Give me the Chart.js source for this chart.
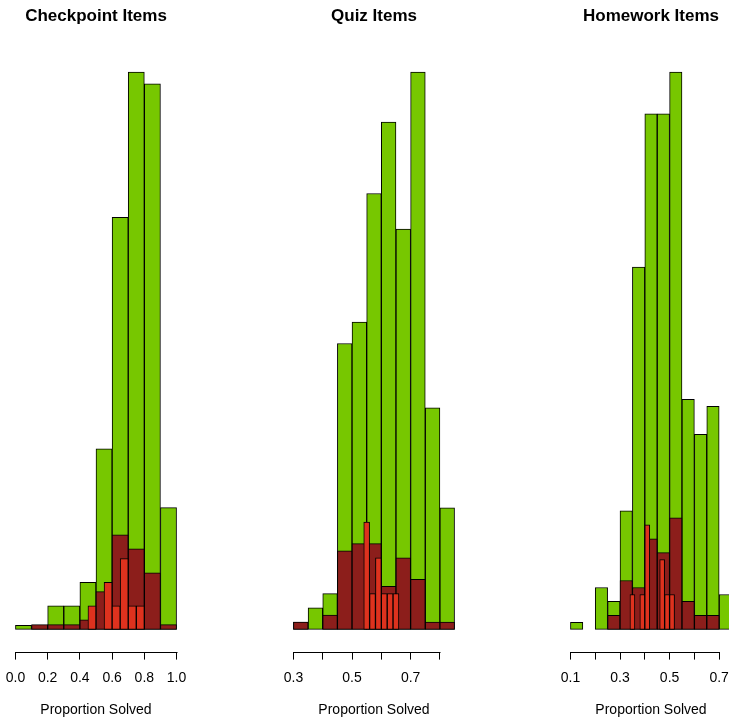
<!DOCTYPE html>
<html>
<head>
<meta charset="utf-8">
<script src="https://cdn.jsdelivr.net/npm/chart.js@4.4.1/dist/chart.umd.min.js"></script>
<style>
  html, body { margin: 0; padding: 0; background: #fff; }
  #wrap { position: relative; width: 729px; height: 721px; overflow: hidden; }
  #wrap canvas { position: absolute; top: 0; }
</style>
</head>
<body>
<div id="wrap">
  <canvas id="checkChart" width="278" height="721" style="left:-43px"></canvas>
  <canvas id="quizChart" width="278" height="721" style="left:235px"></canvas>
  <canvas id="homeChart" width="278" height="721" style="left:512px"></canvas>
</div>
<script>
// Checkpoint items: bin left edges and bar heights
const checkGreenBins = [0.0, 0.1, 0.2, 0.3, 0.4, 0.5, 0.6, 0.7, 0.8, 0.9];
const checkGreen = [1, 1, 6, 6, 12, 46, 105, 142, 139, 31];
const checkDarkBins = [0.0, 0.1, 0.2, 0.3, 0.4, 0.5, 0.6, 0.7, 0.8, 0.9];
const checkDark = [0, 1.2, 1.2, 1.2, 2.4, 9.6, 24.1, 20.5, 14.4, 1.2];
const checkRedBins = [0.45, 0.50, 0.55, 0.60, 0.65, 0.70, 0.75];
const checkRed = [6, 0, 12, 6, 18, 6, 6];
const checkTicks = [0, 0.2, 0.4, 0.6, 0.8, 1.0];
const checkTickLabels = ['0.0', '0.2', '0.4', '0.6', '0.8', '1.0'];

// Quiz items
const quizGreenBins = [0.30, 0.35, 0.40, 0.45, 0.50, 0.55, 0.60, 0.65, 0.70, 0.75, 0.80];
const quizGreen = [1, 3, 5, 40, 43, 61, 71, 56, 78, 31, 17];
const quizDarkBins = [0.30, 0.35, 0.40, 0.45, 0.50, 0.55, 0.60, 0.65, 0.70, 0.75, 0.80];
const quizDark = [1, 0, 2, 11, 12, 12, 6, 10, 7, 1, 1];
const quizRedBins = [0.54, 0.56, 0.58, 0.60, 0.62, 0.64];
const quizRed = [15, 5, 10, 5, 5, 5];
const quizTicks = [0.3, 0.4, 0.5, 0.6, 0.7, 0.8];
const quizTickLabels = ['0.3', '', '0.5', '', '0.7', ''];

// Homework items
const homeGreenBins = [0.10, 0.15, 0.20, 0.25, 0.30, 0.35, 0.40, 0.45, 0.50, 0.55, 0.60, 0.65, 0.70];
const homeGreen = [1, 0, 6, 4, 17, 52, 74, 74, 80, 33, 28, 32, 5];
const homeDarkBins = [0.10, 0.15, 0.20, 0.25, 0.30, 0.35, 0.40, 0.45, 0.50, 0.55, 0.60, 0.65, 0.70];
const homeDark = [0, 0, 0, 2, 7, 6, 13, 11, 16, 4, 2, 2, 0];
const homeRedBins = [0.34, 0.36, 0.38, 0.40, 0.42, 0.44, 0.46, 0.48, 0.50];
const homeRed = [5, 0, 5, 15, 0, 0, 10, 5, 5];
const homeTicks = [0.1, 0.2, 0.3, 0.4, 0.5, 0.6, 0.7];
const homeTickLabels = ['0.1', '', '0.3', '', '0.5', '', '0.7'];

const GREEN = '#77C700';
const DARK = '#8C1E1B';
const RED = '#DE321E';

Chart.defaults.font.family = "'Liberation Sans', Arial, Helvetica, sans-serif";
Chart.defaults.color = '#000';

// R style axis: line only from first to last tick
const axisLine = {
  id: 'axisLine',
  afterDraw(chart) {
    const sx = chart.scales.x;
    const t = sx.ticks;
    const ctx = chart.ctx;
    const y = Math.round(sx.top) + 0.5;
    ctx.save();
    ctx.strokeStyle = '#000';
    ctx.lineWidth = 1;
    ctx.beginPath();
    ctx.moveTo(Math.round(sx.getPixelForValue(t[0].value)) + 0.5, y);
    ctx.lineTo(Math.round(sx.getPixelForValue(t[t.length - 1].value)) + 0.5, y);
    ctx.stroke();
    ctx.restore();
  }
};

function toBars(bins, values) {
  const w = bins[1] - bins[0];
  return values.map((v, i) => ({ x: bins[i] + w / 2, y: v }));
}

function makePanel(id, title, green, dark, red, ticks, tickLabels) {
  const lo = green.bins[0];
  const hi = green.bins[green.bins.length - 1] + (green.bins[1] - green.bins[0]);
  const pad = (hi - lo) * 0.04;
  const yMax = Math.max(...green.values);

  const xScale = (visible) => ({
    type: 'linear',
    display: visible,
    min: lo - pad,
    max: hi + pad,
    offset: false,
    afterBuildTicks: s => { s.ticks = ticks.map(v => ({ value: v })); },
    grid: { offset: false, drawOnChartArea: false, drawTicks: true, tickLength: 8, color: '#000', lineWidth: 1 },
    border: { display: false },
    ticks: {
      autoSkip: false, maxRotation: 0, padding: 10, color: '#000',
      font: { size: 14 },
      callback: (v, i) => tickLabels[i]
    },
    title: {
      display: visible, text: 'Proportion Solved', color: '#000',
      font: { size: 14 }, padding: { top: 5, bottom: 2.8 }
    }
  });

  // each histogram sits on its own x scale so bar width follows its own bin width
  const barStyle = {
    borderColor: '#000', borderWidth: 1, borderSkipped: false,
    barPercentage: 1, categoryPercentage: 1, grouped: false
  };

  new Chart(document.getElementById(id), {
    type: 'bar',
    data: {
      datasets: [
        Object.assign({ data: toBars(green.bins, green.values), xAxisID: 'x', backgroundColor: GREEN, order: 3 }, barStyle),
        Object.assign({ data: toBars(dark.bins, dark.values), xAxisID: 'x2', backgroundColor: DARK, order: 2 }, barStyle),
        Object.assign({ data: toBars(red.bins, red.values), xAxisID: 'x3', backgroundColor: RED, order: 1 }, barStyle)
      ]
    },
    options: {
      responsive: false,
      animation: false,
      layout: { padding: { left: 52, right: 52, top: 0, bottom: 0 } },
      plugins: {
        legend: { display: false },
        tooltip: { enabled: false },
        title: {
          display: true, text: title, color: '#000',
          font: { size: 17, weight: 'bold' },
          padding: { top: 6, bottom: 23.3 }
        }
      },
      scales: {
        x: xScale(true),
        x2: xScale(false),
        x3: xScale(false),
        y: { display: false, min: -0.04 * yMax, max: 1.04 * yMax }
      }
    },
    plugins: [axisLine]
  });
}

makePanel('checkChart', 'Checkpoint Items',
  { bins: checkGreenBins, values: checkGreen },
  { bins: checkDarkBins, values: checkDark },
  { bins: checkRedBins, values: checkRed },
  checkTicks, checkTickLabels);

makePanel('quizChart', 'Quiz Items',
  { bins: quizGreenBins, values: quizGreen },
  { bins: quizDarkBins, values: quizDark },
  { bins: quizRedBins, values: quizRed },
  quizTicks, quizTickLabels);

makePanel('homeChart', 'Homework Items',
  { bins: homeGreenBins, values: homeGreen },
  { bins: homeDarkBins, values: homeDark },
  { bins: homeRedBins, values: homeRed },
  homeTicks, homeTickLabels);
</script>
</body>
</html>
